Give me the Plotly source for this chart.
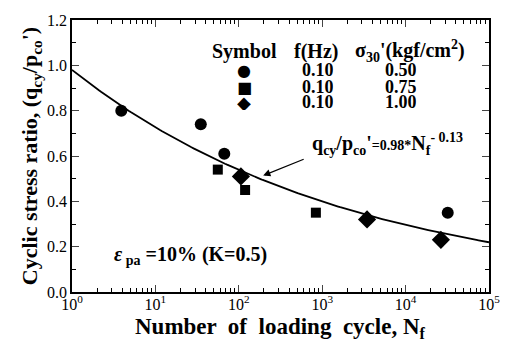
import numpy as np
import plotly.graph_objects as go

# Data
circle_N = [3.9, 35, 67, 32000]
circle_r = [0.80, 0.74, 0.61, 0.35]
square_N = [56, 119, 840]
square_r = [0.54, 0.45, 0.35]
diamond_N = [106, 3450, 26500]
diamond_r = [0.51, 0.32, 0.23]

fit_a = 0.98
fit_b = -0.13
fit_N = np.logspace(0, 5, 200)
fit_r = fit_a * fit_N ** fit_b

x_tickvals = [1, 10, 100, 1000, 10000, 100000]
x_ticktext = ["10<sup>0</sup>", "10<sup>1</sup>", "10<sup>2</sup>", "10<sup>3</sup>", "10<sup>4</sup>", "10<sup>5</sup>"]

legend_freq = ["0.10", "0.10", "0.10"]
legend_sigma = ["0.50", "0.75", "1.00"]
legend_symbols = ["●", "■", "◆"]

FONT = "Liberation Serif"

fig = go.Figure()
fig.add_trace(go.Scatter(x=fit_N, y=fit_r, mode="lines", line=dict(color="black", width=1.8)))
fig.add_trace(go.Scatter(x=circle_N, y=circle_r, mode="markers",
                         marker=dict(symbol="circle", size=12, color="black")))
fig.add_trace(go.Scatter(x=square_N, y=square_r, mode="markers",
                         marker=dict(symbol="square", size=10, color="black")))
fig.add_trace(go.Scatter(x=diamond_N, y=diamond_r, mode="markers",
                         marker=dict(symbol="diamond", size=14, color="black")))

tickfont = dict(family=FONT, size=16, color="black")
fig.update_xaxes(type="log", range=[0, 5], tickvals=x_tickvals, ticktext=x_ticktext,
                 ticks="inside", ticklen=7, tickwidth=1.3, mirror="allticks",
                 showline=True, linecolor="black", linewidth=1.5, showgrid=False,
                 zeroline=False, tickfont=tickfont, ticklabelstandoff=-3,
                 minor=dict(ticks="inside", ticklen=4, dtick="D1", tickcolor="black", showgrid=False))
fig.update_yaxes(range=[0, 1.2], dtick=0.2, tickformat=".1f",
                 ticks="inside", ticklen=7, tickwidth=1.3, mirror="allticks",
                 showline=True, linecolor="black", linewidth=1.5, showgrid=False,
                 zeroline=False, tickfont=tickfont,
                 minor=dict(ticks="inside", ticklen=4, dtick=0.1, tickcolor="black", showgrid=False),
                 title=dict(text="<b>Cyclic stress ratio, (q<sub>cy</sub>/p<sub>co</sub>')</b>",
                            font=dict(family=FONT, size=22, color="black"), standoff=3))

ann = []
ann.append(dict(xref="paper", yref="paper", x=0.5, y=-0.072, yanchor="top", xanchor="center",
                text="<b>Number  of  loading  cycle, N<sub>f</sub></b>", showarrow=False,
                font=dict(family=FONT, size=23, color="black")))
head = dict(family=FONT, size=20, color="black")
bold = dict(family=FONT, size=18, color="black")
ann.append(dict(xref="paper", yref="paper", x=0.413, y=0.886, xanchor="center", yanchor="middle",
                text="<b>Symbol</b>", showarrow=False, font=head))
ann.append(dict(xref="paper", yref="paper", x=0.585, y=0.886, xanchor="center", yanchor="middle",
                text="<b>f(Hz)</b>", showarrow=False, font=head))
ann.append(dict(xref="paper", yref="paper", x=0.81, y=0.886, xanchor="center", yanchor="middle",
                text="<b>σ<sub>30</sub>'(kgf/cm<sup>2</sup>)</b>", showarrow=False, font=head))
row_y = [0.815, 0.755, 0.697]
sym_sizes = [16, 16, 18]
for sym, sz, f, s, yy in zip(legend_symbols, sym_sizes, legend_freq, legend_sigma, row_y):
    ann.append(dict(xref="paper", yref="paper", x=0.413, y=yy, xanchor="center", yanchor="middle",
                    text=sym, showarrow=False,
                    font=dict(family="DejaVu Sans", size=sz, color="black"), height=16, valign="middle"))
    ann.append(dict(xref="paper", yref="paper", x=0.589, y=yy, xanchor="center", yanchor="middle",
                    text=f"<b>{f}</b>", showarrow=False, font=bold, height=16))
    ann.append(dict(xref="paper", yref="paper", x=0.790, y=yy, xanchor="center", yanchor="middle",
                    text=f"<b>{s}</b>", showarrow=False, font=bold, height=16))

# formula text and arrow
tip_N = 196
ann.append(dict(x=np.log10(tip_N), y=fit_a * tip_N ** fit_b + 0.02, xref="x", yref="y", text="",
                showarrow=True, arrowhead=2, arrowsize=1.2, arrowwidth=1.2, arrowcolor="black",
                ax=42, ay=-17))
ann.append(dict(xref="paper", yref="paper", x=0.57, y=0.545, xanchor="left", yanchor="middle",
                text="<b>q<sub>cy</sub>/p<sub>co</sub>'<span style='font-size:14px'>=0.98*</span>N<sub>f</sub><sup>- 0.13</sup></b>",
                showarrow=False, font=dict(family=FONT, size=20, color="black")))
ann.append(dict(xref="paper", yref="paper", x=0.095, y=0.135, xanchor="left", yanchor="middle",
                text="<b><i>ε</i><sub> pa</sub> =10% (K=0.5)</b>",
                showarrow=False, font=dict(family=FONT, size=20, color="black")))

fig.update_layout(width=512, height=342, margin=dict(l=72, r=19, t=16, b=50),
                  plot_bgcolor="white", paper_bgcolor="white", showlegend=False,
                  annotations=ann, font=dict(family=FONT, color="black"))
fig.write_html("out.html", config={"displayModeBar": False},
               post_script="document.body.style.margin='0px';")
